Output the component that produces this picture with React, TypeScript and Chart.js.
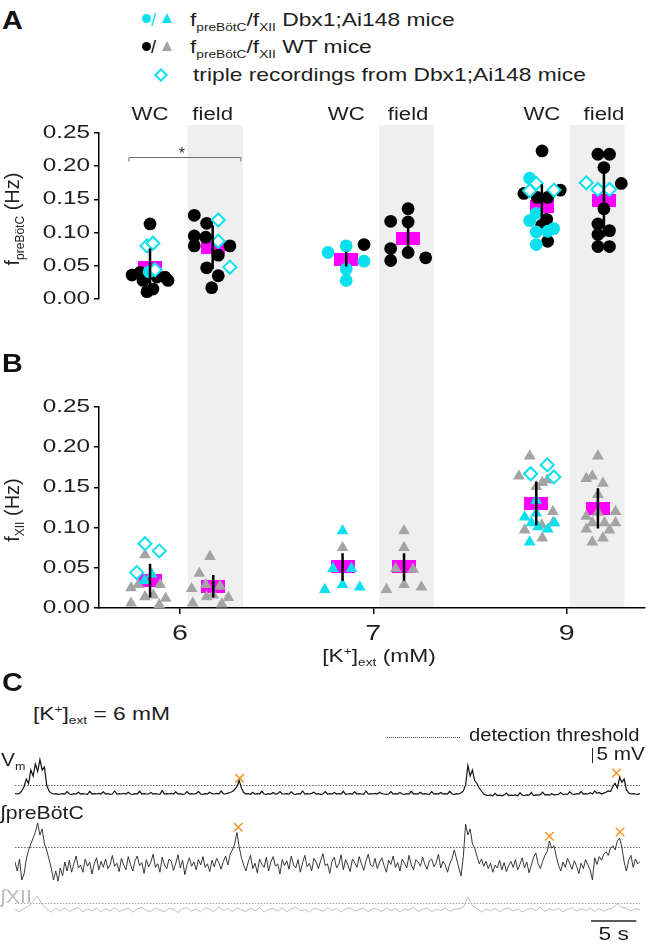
import React, { useEffect, useRef } from 'react';
import { Chart, registerables } from 'chart.js';

Chart.register(...registerables);

type Pt = [number, number];

// ---------- shared category axis ----------
const catLabels = ['6', '7', '9']; // [K+]ext (mM) at positions 0, 1, 2
const catPos = [0, 1, 2];
const xMin = -0.419;
const xMax = 2.403;
const bandFrom = [0.04, 1.03, 2.016]; // grey "field" columns
const bandTo = [0.326, 1.314, 2.3];
const groupLabels = ['WC', 'field'];

// ---------- panel A: f_preBötC (Hz), points as [position, value] ----------
const preBotWT: Pt[] = [
  [-0.155, 0.113], [-0.248, 0.036], [-0.207, 0.04], [-0.191, 0.028], [-0.119, 0.033], [-0.078, 0.033], [-0.062, 0.028], [-0.171, 0.011], [-0.14, 0.015],
  [0.074, 0.126], [0.138, 0.114], [0.074, 0.095], [0.133, 0.093], [0.074, 0.08], [0.258, 0.08], [0.198, 0.066], [0.138, 0.047], [0.198, 0.035], [0.164, 0.017],
  [0.952, 0.082],
  [1.18, 0.136], [1.09, 0.117], [1.18, 0.116], [1.09, 0.076], [1.18, 0.07], [1.09, 0.058], [1.271, 0.062],
  [1.873, 0.223], [1.779, 0.159], [1.967, 0.164], [1.848, 0.153], [1.902, 0.153], [1.897, 0.12], [1.871, 0.111], [1.902, 0.087],
  [2.162, 0.218], [2.222, 0.218], [2.193, 0.198], [2.283, 0.174], [2.193, 0.136], [2.162, 0.113], [2.222, 0.103], [2.162, 0.097], [2.162, 0.079], [2.222, 0.079],
];
const preBotDbx: Pt[] = [
  [-0.16, 0.041],
  [0.766, 0.07], [0.86, 0.08], [0.952, 0.057], [0.86, 0.045], [0.86, 0.028],
  [1.809, 0.182], [1.843, 0.129], [1.809, 0.118], [1.843, 0.101], [1.902, 0.102], [1.933, 0.106], [1.843, 0.082],
];
const preBotTriple: Pt[] = [
  [-0.171, 0.08], [-0.14, 0.084], [-0.129, 0.044],
  [0.198, 0.119], [0.198, 0.087], [0.258, 0.048],
  [1.843, 0.174], [1.809, 0.163], [1.935, 0.164],
  [2.102, 0.175], [2.162, 0.165], [2.222, 0.165],
];
const preBotMeanX = [-0.155, 0.169, 0.86, 1.18, 1.872, 2.193];
const preBotMean = [0.047, 0.078, 0.06, 0.091, 0.14, 0.148];
const preBotSD = [0.029, 0.033, 0.011, 0.024, 0.033, 0.055];
const sigFrom = -0.264;
const sigTo = 0.315;
const sigLevel = 0.214;

// ---------- panel B: f_XII (Hz) ----------
const xiiWT: Pt[] = [
  [-0.181, 0.066], [-0.253, 0.025], [-0.216, 0.029], [-0.103, 0.029], [-0.181, 0.014], [-0.138, 0.016], [-0.253, 0.006], [-0.107, 0.004], [-0.074, 0.012],
  [0.155, 0.064], [0.1, 0.043], [0.06, 0.024], [0.134, 0.029], [0.207, 0.027], [0.138, 0.014], [0.172, 0.016], [0.066, 0.006], [0.216, 0.005], [0.25, 0.013],
  [0.841, 0.075],
  [1.159, 0.096], [1.159, 0.075], [1.116, 0.049], [1.206, 0.048], [1.068, 0.023], [1.159, 0.029], [1.249, 0.026],
  [1.809, 0.189], [1.753, 0.164], [1.843, 0.151], [1.874, 0.156], [1.9, 0.159], [1.929, 0.12], [1.783, 0.097], [1.874, 0.087], [1.929, 0.106], [1.872, 0.103],
  [2.162, 0.189], [2.102, 0.161], [2.133, 0.164], [2.188, 0.155], [2.162, 0.141], [2.253, 0.12], [2.102, 0.114], [2.162, 0.119], [2.133, 0.106], [2.196, 0.106], [2.253, 0.106], [2.102, 0.098], [2.222, 0.097], [2.133, 0.082], [2.188, 0.087],
];
const xiiDbx: Pt[] = [
  [-0.146, 0.042], [-0.184, 0.034],
  [0.841, 0.096], [0.792, 0.049], [0.887, 0.049], [0.749, 0.023], [0.841, 0.029], [0.93, 0.026],
  [1.843, 0.134], [1.843, 0.118], [1.783, 0.113], [1.818, 0.106], [1.852, 0.101], [1.903, 0.098], [1.938, 0.106], [1.809, 0.082],
];
const xiiTriple: Pt[] = [
  [-0.181, 0.08], [-0.107, 0.071], [-0.224, 0.044],
  [1.9, 0.178], [1.814, 0.167], [1.934, 0.163],
];
const xiiMeanX = [-0.155, 0.172, 0.841, 1.159, 1.843, 2.162];
const xiiMean = [0.034, 0.027, 0.051, 0.051, 0.13, 0.124];
const xiiSD = [0.021, 0.014, 0.017, 0.017, 0.027, 0.025];

// ---------- panel C: traces, [K+]ext = 6 mM ----------
const traceStep = 0.25; // s
const xiiStep = 0.5; // s
const vmTrace = [
  0.1, 0.0, 0.2, 1.0, 2.5, 5.0, 3.5, 8.0, 6.0, 10.0, 7.5, 11.5, 8.0, 9.0, 3.0, 1.0, 0.3, 0.0, 0.1, -0.1,
  0.0, 0.1, 0.0, 0.8, 0.0, -0.1, 0.1, 0.0, 0.6, 0.0, 0.1, 0.0, -0.1, 0.9, 0.0, 0.1, 0.0, 0.2, 0.0, 0.7,
  0.0, 0.1, -0.1, 0.0, 1.0, 0.0, 0.1, 0.0, 0.2, 0.0, 0.6, 0.0, -0.1, 0.1, 0.0, 0.9, 0.0, 0.1, 0.0, 0.0,
  0.5, 0.0, 0.1, 0.0, -0.1, 1.1, 0.0, 0.1, 0.0, 0.2, 0.0, 0.7, 0.0, 0.1, -0.1, 0.0, 0.8, 0.0, 0.1, 0.0,
  0.1, 0.9, 0.0, -0.1, 0.1, 0.0, 0.6, 0.1, 0.0, 0.2, 0.0, 1.0, 0.1, 0.0, 0.3, 0.5, 0.8, 1.5, 2.5, 4.5,
  2.0, 0.5, 0.0, 0.1, -0.1, 0.6, 0.0, 0.1, 0.0, 0.9, 0.0, -0.1, 0.1, 0.0, 0.5, 0.0, 0.1, 0.8, 0.0, 0.0,
  0.1, 0.0, 0.7, 0.0, -0.1, 0.1, 0.0, 1.0, 0.0, 0.1, 0.0, 0.2, 0.6, 0.0, 0.1, -0.1, 0.0, 0.8, 0.0, 0.1,
  0.0, 0.5, 0.0, 0.1, 0.0, 0.9, -0.1, 0.0, 0.1, 0.0, 0.7, 0.0, 0.1, 0.0, -0.1, 1.0, 0.0, 0.1, 0.0, 0.2,
  0.0, 0.6, 0.1, 0.0, -0.1, 0.0, 0.8, 0.0, 0.1, 0.0, 0.5, 0.0, -0.1, 0.1, 0.0, 0.9, 0.0, 0.1, 0.0, 0.6,
  0.0, 0.1, 0.0, -0.1, 0.8, 0.0, 0.1, 0.0, 0.5, 0.0, 0.1, 0.0, 0.9, 0.0, -0.1, 0.1, 0.0, 0.4, 1.0, 3.0,
  9.5, 6.0, 8.0, 4.5, 3.5, 2.0, 1.0, 0.0, -0.4, -0.5, -0.3, -0.6, 0.2, -0.5, -0.4, -0.6, -0.3, 0.3, -0.5, -0.4,
  -0.5, -0.3, -0.6, 0.4, -0.4, -0.5, -0.3, -0.4, 0.5, -0.5, -0.3, -0.4, -0.2, 0.6, -0.3, -0.2, -0.4, 0.1, -0.3, -0.2,
  -0.1, 0.5, -0.2, 0.0, -0.1, 0.7, 0.0, -0.1, 0.1, 0.0, 0.8, 0.0, 0.1, 0.0, 0.4, 0.0, 1.0, 0.2, 0.5, 0.0,
  0.3, 0.6, 1.0, 0.8, 2.5, 3.5, 2.0, 5.5, 4.0, 5.0, 1.5, 0.3, 0.0, 0.1, 0.0, -0.1, 0.1,
];
const preBotTrace = [
  3.5, 2.0, 4.0, 0.5, 1.5, 4.0, 5.5, 6.5, 7.5, 8.5, 10.0, 8.0, 9.0, 6.5, 5.5, 4.0, 2.5, 0.5, 2.0, 0.3,
  2.5, 1.2, 3.5, 2.0, 3.8, 1.8, 3.2, 4.5, 2.5, 3.0, 1.8, 4.0, 2.8, 3.5, 1.5, 3.2, 4.2, 2.2, 3.6, 2.6,
  4.0, 2.4, 3.0, 4.6, 2.8, 3.3, 1.9, 4.1, 3.0, 2.2, 4.4, 3.1, 2.0, 3.7, 4.5, 2.9, 3.4, 1.6, 3.9, 2.7,
  3.5, 4.8, 2.6, 3.2, 1.8, 4.3, 3.0, 2.4, 4.0, 3.6, 2.1, 3.3, 4.7, 2.5, 3.8, 1.4, 3.1, 4.2, 2.8, 3.5,
  2.2, 3.9, 3.0, 4.4, 2.6, 3.2, 1.9, 3.8, 2.7, 4.1, 3.4, 2.3, 3.6, 4.5, 3.0, 4.8, 5.5, 6.5, 8.4, 6.0,
  4.2, 3.0, 2.0, 3.5, 4.6, 2.4, 3.3, 1.7, 4.0, 3.1, 2.6, 4.3, 2.0, 3.5, 4.4, 2.8, 3.2, 1.5, 3.9, 2.9,
  3.7, 2.3, 4.5, 3.0, 2.5, 3.9, 1.8, 3.4, 4.6, 2.7, 3.3, 2.0, 4.1, 3.5, 2.4, 3.8, 4.9, 2.9, 3.2, 1.6,
  3.6, 4.3, 2.5, 3.1, 4.7, 2.2, 3.9, 3.0, 1.9, 4.0, 3.4, 2.6, 4.4, 3.2, 2.1, 3.7, 4.8, 3.0, 2.7, 4.1,
  2.4, 3.5, 4.2, 2.9, 1.8, 3.8, 3.1, 4.5, 2.6, 3.4, 2.0, 4.0, 3.3, 2.5, 4.6, 3.0, 2.2, 3.9, 3.5, 2.8,
  4.3, 3.1, 2.3, 3.7, 4.0, 2.7, 3.4, 4.8, 2.5, 3.6, 3.0, 1.8, 3.2, 4.1, 5.5, 4.0, 2.5, 1.2, 4.5, 9.8,
  8.0, 9.0, 6.5, 5.8, 4.5, 3.2, 4.0, 2.8, 3.6, 2.4, 3.3, 1.8, 3.0, 2.5, 3.8, 2.2, 3.4, 1.9, 2.9, 3.6,
  2.6, 3.9, 2.2, 3.1, 4.2, 2.5, 3.5, 1.7, 3.0, 4.3, 5.0, 3.2, 2.4, 3.6, 4.6, 5.2, 7.0, 5.8, 6.2, 4.5,
  3.0, 2.0, 3.5, 2.6, 4.1, 3.2, 2.3, 3.7, 2.8, 1.6, 3.3, 2.4, 3.9, 3.0, 2.2, 0.5, 4.2, 3.1, 4.4, 3.8,
  4.8, 5.2, 4.6, 5.8, 6.2, 5.5, 7.0, 7.5, 6.0, 3.5, 2.0, 3.8, 4.6, 2.6, 4.0, 3.2, 3.6,
];
const xiiTrace = [
  0.2, -0.5, 0.4, 1.0, 2.5, 4.0, 1.5, 0.3, -0.6, 0.5, -0.3, 0.6, -0.4, 0.2, 0.7, -0.5, 0.3, -0.2, 0.6, -0.6,
  0.4, -0.3, 0.7, -0.5, 0.1, 0.5, -0.6, 0.3, 0.8, -0.2, -0.4, 0.6, 0.0, -0.5, 0.5, 0.2, -0.7, 0.4, 0.6, -0.3,
  0.3, -0.6, 0.7, 0.1, -0.4, 0.9, -0.2, 0.4, -0.5, 0.6, 0.0, -0.4, 0.5, -0.2, 0.7, -0.6, 0.2, 0.4, -0.3, 0.6,
  -0.5, 0.3, 0.8, -0.2, 0.1, -0.6, 0.5, 0.2, -0.4, 0.7, -0.1, 0.4, -0.6, 0.3, 0.6, -0.3, 0.1, 0.5, -0.5, 0.4,
  0.2, -0.4, 0.6, -0.2, 0.5, -0.6, 0.3, 0.0, 0.7, -0.4, 0.2, 0.5, -0.5, 0.3, -0.1, 0.6, -0.4, 0.2, 0.4, 0.8,
  3.8, 1.2, 0.4, -0.6, 0.3, -0.2, 0.5, -0.5, 0.2, 0.6, -0.3, 0.4, -0.6, 0.1, 0.5, -0.2, 0.7, -0.4, 0.3, -0.1,
  0.5, -0.5, 0.2, 0.6, -0.3, 0.4, -0.2, 0.6, -0.4, 0.4, -0.4, 0.3, 0.6, 1.8, 0.8, 0.5, -0.3, 0.4, 0.1,
];
const vmThreshold = 3;
const preBotThreshold = 6;
const xiiThreshold = 2;
const vmDetect: Pt[] = [[24.8, 5.2], [66.4, 7.0]];
const preBotDetect: Pt[] = [[24.65, 9.3], [59.0, 7.8], [66.8, 8.5]];
const mvBarT = 63.7;
const mvBarFrom = 10.33;
const sBarFrom = 63.6;

// ---------- styles ----------
const FONT = '"Liberation Sans", Arial, Helvetica, sans-serif';
const TEXT = '#1e1e1e';
const CYAN = '#0ae0ee';
const GREY = '#a4a4a4';
const MAGENTA = '#ff00ff';
const BAND = '#efefef';
const ORANGE = '#f39a2e';

function makeMeanMarker(): HTMLCanvasElement {
  const c = document.createElement('canvas');
  c.width = 24;
  c.height = 13;
  const g = c.getContext('2d')!;
  g.fillStyle = MAGENTA;
  g.fillRect(0, 0, 24, 13);
  return c;
}

function stretchText(ctx: any, text: string, x: number, y: number, size: number, sx: number, align: string, color: string) {
  ctx.save();
  ctx.translate(x, y);
  ctx.scale(sx, 1);
  ctx.font = `${size}px ${FONT}`;
  ctx.fillStyle = color;
  ctx.textAlign = align;
  ctx.textBaseline = 'middle';
  ctx.fillText(text, 0, 0);
  ctx.restore();
}

function panelDeco(panel: 'A' | 'B') {
  return {
    id: 'deco' + panel,
    beforeDraw(chart: any) {
      const { ctx, chartArea } = chart;
      const xs = chart.scales.x;
      const top = panel === 'A' ? 25 : 0;
      const bottom = panel === 'A' ? chart.height : chartArea.bottom;
      ctx.save();
      ctx.fillStyle = BAND;
      bandFrom.forEach((f, i) => {
        const x0 = xs.getPixelForValue(f);
        const x1 = xs.getPixelForValue(bandTo[i]);
        ctx.fillRect(x0, top, x1 - x0, bottom - top);
      });
      ctx.restore();
    },
    afterDraw(chart: any) {
      const { ctx } = chart;
      const xs = chart.scales.x;
      const ys = chart.scales.y;
      ys.ticks.forEach((t: any) => {
        stretchText(ctx, Number(t.value).toFixed(2), ys.right - 9, ys.getPixelForValue(t.value), 18, 1.35, 'right', TEXT);
      });
      if (panel === 'A') {
        preBotMeanX.forEach((x, i) => {
          stretchText(ctx, groupLabels[i % 2], xs.getPixelForValue(x), 15, 18, 1.23, 'center', TEXT);
        });
        const bx0 = xs.getPixelForValue(sigFrom);
        const bx1 = xs.getPixelForValue(sigTo);
        const by = Math.round(ys.getPixelForValue(sigLevel)) + 0.5;
        const byEnd = ys.getPixelForValue(sigLevel - 0.007);
        ctx.save();
        ctx.strokeStyle = '#6e6e6e';
        ctx.lineWidth = 1;
        ctx.beginPath();
        ctx.moveTo(bx0, byEnd);
        ctx.lineTo(bx0, by);
        ctx.lineTo(bx1, by);
        ctx.lineTo(bx1, byEnd);
        ctx.stroke();
        ctx.restore();
        stretchText(ctx, '*', (bx0 + bx1) / 2 - 3, by - 3, 16, 1, 'center', '#333');
      } else {
        xs.ticks.forEach((t: any, i: number) => {
          stretchText(ctx, catLabels[i], xs.getPixelForValue(t.value), xs.top + 26, 22, 1.3, 'center', TEXT);
        });
      }
    },
  };
}

function axisStyle() {
  return {
    grid: { display: true, drawOnChartArea: false, drawTicks: true, tickLength: 5, color: '#000', lineWidth: 1.5 },
    border: { display: true, color: '#000', width: 1.5 },
  };
}

function makePanelConfig(panel: 'A' | 'B', meanImg: HTMLCanvasElement): any {
  const isA = panel === 'A';
  const wt = isA ? preBotWT : xiiWT;
  const dbx = isA ? preBotDbx : xiiDbx;
  const triple = isA ? preBotTriple : xiiTriple;
  const meanX = isA ? preBotMeanX : xiiMeanX;
  const mean = isA ? preBotMean : xiiMean;
  const sd = isA ? preBotSD : xiiSD;
  const shape = isA ? 'circle' : 'triangle';
  const rad = isA ? 6.4 : 6.8;
  const pts = (a: Pt[]) => a.map(([x, y]) => ({ x, y }));
  const datasets: any[] = [
    {
      label: 'mean', data: meanX.map((x, i) => ({ x, y: mean[i] })), pointStyle: meanImg, pointRadius: 7,
      showLine: false, order: 4,
    },
    {
      label: 'WT', data: pts(wt), pointStyle: shape, pointRadius: rad, pointBackgroundColor: isA ? '#000' : GREY,
      backgroundColor: isA ? '#000' : GREY, pointBorderWidth: 0, showLine: false, order: 3,
    },
    {
      label: 'Dbx1;Ai148', data: pts(dbx), pointStyle: shape, pointRadius: rad, pointBackgroundColor: CYAN,
      backgroundColor: CYAN, pointBorderWidth: 0, showLine: false, order: 2,
    },
    {
      label: 'triple', data: pts(triple), pointStyle: 'rectRot', pointRadius: 6.5, pointBackgroundColor: '#fff',
      pointBorderColor: CYAN, pointBorderWidth: 2, showLine: false, order: 1,
    },
    ...meanX.map((x, i) => ({
      label: 'sd', data: [{ x, y: mean[i] - sd[i] }, { x, y: mean[i] + sd[i] }], showLine: true,
      borderColor: '#000', borderWidth: 2.5, pointRadius: 0, order: 0,
    })),
  ];
  const ax = axisStyle();
  return {
    type: 'scatter',
    data: { datasets },
    options: {
      responsive: false,
      animation: false,
      events: [],
      layout: { padding: isA ? { top: 33, bottom: 41, left: 0, right: 8 } : { top: 27, bottom: 12, left: 0, right: 8 } },
      plugins: { legend: { display: false }, tooltip: { enabled: false } },
      scales: {
        x: {
          type: 'linear', min: xMin, max: xMax, display: !isA,
          grid: { ...ax.grid, tickLength: 6 }, border: ax.border,
          ticks: { display: false },
          afterBuildTicks: (s: any) => { s.ticks = catPos.map((v) => ({ value: v })); },
          afterFit: (s: any) => { s.height = 40; },
        },
        y: {
          type: 'linear', min: 0, max: 0.25,
          grid: ax.grid, border: ax.border,
          ticks: { display: false, stepSize: 0.05 },
          afterFit: (s: any) => { s.width = 99; },
        },
      },
    },
    plugins: [panelDeco(panel)],
  };
}

const traceDeco = {
  id: 'traceDeco',
  beforeDatasetsDraw(chart: any) {
    const { ctx, chartArea } = chart;
    const defs: [string, number, string][] = [
      ['yVm', vmThreshold, '#666'],
      ['yPre', preBotThreshold, '#666'],
      ['yXII', xiiThreshold, '#aaa'],
    ];
    ctx.save();
    ctx.setLineDash([1.5, 1.5]);
    ctx.lineWidth = 1;
    defs.forEach(([axis, v, color]) => {
      const y = Math.round(chart.scales[axis].getPixelForValue(v)) + 0.5;
      ctx.strokeStyle = color;
      ctx.beginPath();
      ctx.moveTo(chartArea.left, y);
      ctx.lineTo(chartArea.right, y);
      ctx.stroke();
    });
    ctx.restore();
  },
  afterDraw(chart: any) {
    const { ctx, chartArea } = chart;
    const xs = chart.scales.x;
    const yv = chart.scales.yVm;
    const bx = Math.round(xs.getPixelForValue(mvBarT)) + 0.5;
    const y0 = yv.getPixelForValue(mvBarFrom);
    const y1 = yv.getPixelForValue(mvBarFrom + 5);
    ctx.save();
    ctx.strokeStyle = '#222';
    ctx.lineWidth = 1;
    ctx.beginPath();
    ctx.moveTo(bx, y0);
    ctx.lineTo(bx, y1);
    ctx.stroke();
    const sx0 = xs.getPixelForValue(sBarFrom);
    const sx1 = xs.getPixelForValue(sBarFrom + 5);
    const sy = chartArea.bottom + 6;
    ctx.lineWidth = 1.5;
    ctx.beginPath();
    ctx.moveTo(sx0, sy);
    ctx.lineTo(sx1, sy);
    ctx.stroke();
    ctx.restore();
    stretchText(ctx, '5 mV', bx + 4, (y0 + y1) / 2, 18, 1.15, 'left', TEXT);
    stretchText(ctx, '5 s', (sx0 + sx1) / 2, chartArea.bottom + 20, 19, 1.2, 'center', TEXT);
  },
};

function makeTraceConfig(): any {
  const toXY = (arr: number[], step: number) => arr.map((v, i) => ({ x: i * step, y: v }));
  const cross = (a: Pt[]) => a.map(([x, y]) => ({ x, y }));
  return {
    type: 'line',
    data: {
      datasets: [
        { data: toXY(vmTrace, traceStep), yAxisID: 'yVm', borderColor: '#111', borderWidth: 1.2, pointRadius: 0, tension: 0 },
        { data: toXY(preBotTrace, traceStep), yAxisID: 'yPre', borderColor: '#222', borderWidth: 0.9, pointRadius: 0, tension: 0 },
        { data: toXY(xiiTrace, xiiStep), yAxisID: 'yXII', borderColor: '#b8b8b8', borderWidth: 0.9, pointRadius: 0, tension: 0 },
        {
          type: 'scatter', data: cross(vmDetect), yAxisID: 'yVm', pointStyle: 'crossRot', pointRadius: 6,
          pointBorderColor: ORANGE, pointBorderWidth: 1.6, showLine: false,
        },
        {
          type: 'scatter', data: cross(preBotDetect), yAxisID: 'yPre', pointStyle: 'crossRot', pointRadius: 6,
          pointBorderColor: ORANGE, pointBorderWidth: 1.6, showLine: false,
        },
      ],
    },
    options: {
      responsive: false,
      animation: false,
      events: [],
      layout: { padding: { top: 15, bottom: 33, left: 15, right: 13 } },
      plugins: { legend: { display: false }, tooltip: { enabled: false } },
      scales: {
        x: { type: 'linear', min: 0, max: 69, display: false },
        yVm: { type: 'linear', min: -40.33, max: 13, display: false },
        yPre: { type: 'linear', min: -5.33, max: 21.33, display: false },
        yXII: { type: 'linear', min: -1.43, max: 44.29, display: false },
      },
    },
    plugins: [traceDeco],
  };
}

// ---------- HTML text helpers ----------
const Sub = ({ children }: any) => (
  <span style={{ fontSize: '0.6em', position: 'relative', top: '0.4em' }}>{children}</span>
);
const Sup = ({ children }: any) => (
  <span style={{ fontSize: '0.6em', position: 'relative', top: '-0.55em' }}>{children}</span>
);

function Label({ x, y, size = 19, sx = 1.2, color = TEXT, weight = 400, align = 'left', children }: any) {
  const center = align === 'center';
  return (
    <div
      style={{
        position: 'absolute', left: x, top: y - size * 0.5, height: size, lineHeight: `${size}px`,
        fontSize: size, fontWeight: weight, color, whiteSpace: 'nowrap', fontFamily: FONT,
        transform: `${center ? 'translateX(-50%) ' : ''}scaleX(${sx})`,
        transformOrigin: center ? 'center' : 'left center',
      }}
    >
      {children}
    </div>
  );
}

function VLabel({ x, y, size = 20, children }: any) {
  return (
    <div
      style={{
        position: 'absolute', left: x, top: y, fontSize: size, lineHeight: `${size}px`, whiteSpace: 'nowrap',
        fontFamily: FONT, color: TEXT, transform: 'translate(-50%, -50%) rotate(-90deg)',
      }}
    >
      {children}
    </div>
  );
}

const Dot = ({ x, y, color }: any) => (
  <div style={{ position: 'absolute', left: x - 4.5, top: y - 4.5, width: 9, height: 9, borderRadius: '50%', background: color }} />
);
const Tri = ({ x, y, color }: any) => (
  <div
    style={{
      position: 'absolute', left: x - 5.5, top: y - 5, width: 0, height: 0,
      borderLeft: '5.5px solid transparent', borderRight: '5.5px solid transparent', borderBottom: `10px solid ${color}`,
    }}
  />
);
const Diamond = ({ x, y, color }: any) => (
  <div
    style={{
      position: 'absolute', left: x - 5, top: y - 5, width: 6, height: 6, border: `2px solid ${color}`,
      transform: 'rotate(45deg)',
    }}
  />
);

export default function App() {
  const aRef = useRef<HTMLCanvasElement>(null);
  const bRef = useRef<HTMLCanvasElement>(null);
  const cRef = useRef<HTMLCanvasElement>(null);

  useEffect(() => {
    const meanImg = makeMeanMarker();
    const chartA = new Chart(aRef.current as any, makePanelConfig('A', meanImg));
    const chartB = new Chart(bRef.current as any, makePanelConfig('B', meanImg));
    const chartC = new Chart(cRef.current as any, makeTraceConfig());
    return () => {
      chartA.destroy();
      chartB.destroy();
      chartC.destroy();
    };
  }, []);

  return (
    <div style={{ position: 'absolute', left: 0, top: 0, width: 653, height: 948, background: '#fff', overflow: 'hidden', fontFamily: FONT }}>
      <canvas ref={aRef} width={653} height={280} style={{ position: 'absolute', left: 0, top: 100, width: 653, height: 280 }} />
      <canvas ref={bRef} width={653} height={280} style={{ position: 'absolute', left: 0, top: 380, width: 653, height: 280 }} />
      <canvas ref={cRef} width={653} height={208} style={{ position: 'absolute', left: 0, top: 740, width: 653, height: 208 }} />

      {/* panel letters */}
      <Label x={2} y={20} size={25} sx={1.15} weight={700} color="#111">A</Label>
      <Label x={2} y={363} size={25} sx={1.15} weight={700} color="#111">B</Label>
      <Label x={2} y={682} size={25} sx={1.15} weight={700} color="#111">C</Label>

      {/* legend */}
      <Dot x={146} y={18.5} color={CYAN} />
      <Label x={151} y={19.5} size={18} sx={1} color={CYAN}>/</Label>
      <Tri x={167.5} y={18} color={CYAN} />
      <Label x={190} y={19.5}>f<Sub>preBötC</Sub>/f<Sub>XII</Sub> Dbx1;Ai148 mice</Label>

      <Dot x={146} y={46.5} color="#000" />
      <Label x={151} y={47} size={18} sx={1} color="#000">/</Label>
      <Tri x={167.5} y={46} color={GREY} />
      <Label x={190} y={46.5}>f<Sub>preBötC</Sub>/f<Sub>XII</Sub> WT mice</Label>

      <Diamond x={161} y={75} color={CYAN} />
      <Label x={193} y={74.5}>triple recordings from Dbx1;Ai148 mice</Label>

      {/* axis titles */}
      <VLabel x={13} y={219} size={20}>f<Sub>preBötC</Sub> (Hz)</VLabel>
      <VLabel x={13} y={510} size={20}>f<Sub>XII</Sub> (Hz)</VLabel>
      <Label x={379} y={655} align="center">[K<Sup>+</Sup>]<Sub>ext</Sub> (mM)</Label>

      {/* panel C texts */}
      <Label x={33} y={713}>[K<Sup>+</Sup>]<Sub>ext</Sub> = 6 mM</Label>
      <div style={{ position: 'absolute', left: 387, top: 737, width: 73, borderTop: '1px dotted #555' }} />
      <Label x={469} y={735} size={18} sx={1.12}>detection threshold</Label>
      <Label x={1} y={759} size={19} sx={1.1}>V<Sub>m</Sub></Label>
      <Label x={0} y={812} size={19} sx={1.12}>∫preBötC</Label>
      <Label x={0} y={896} size={19} sx={1.12} color="#bdbdbd">∫XII</Label>
    </div>
  );
}
